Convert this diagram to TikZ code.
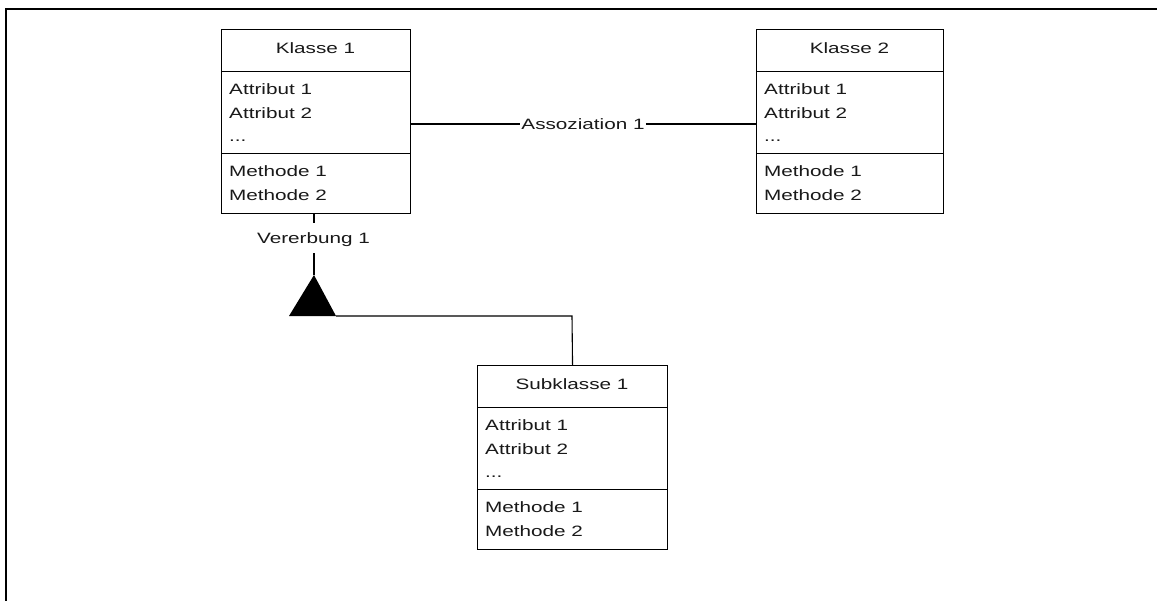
\documentclass[tikz,border=0pt]{standalone}
\usepackage{fontspec}
\newfontfamily\diagfont{Liberation Sans}[FakeStretch=1.38]
\usetikzlibrary{calc}
\tikzset{
  comp/.style={draw=black, line width=1.1pt, fill=white, inner sep=0pt, rectangle},
  txt/.style={inner sep=0pt, font=\diagfont\fontsize{15}{18}\selectfont, text=black!90},
  lbl/.style={inner xsep=1pt, inner ysep=0pt, font=\diagfont\fontsize{15}{18}\selectfont, text=black!90, fill=white},
  conn/.style={draw=black, line width=1.1pt},
  frame/.style={draw=black, line width=2.2pt},
}
\newcommand\umlclass[5]{%
  \node[comp, minimum width=#4pt, minimum height=42pt, anchor=north west] (#1h) at (#2,#3) {};
  \node[comp, minimum width=#4pt, minimum height=82pt, anchor=north west] (#1a) at (#2,#3+42) {};
  \node[comp, minimum width=#4pt, minimum height=60pt, anchor=north west] (#1m) at (#2,#3+124) {};
  \node[txt, anchor=base] (#1t) at (#2+#4/2,#3+24.5) {#5};
  \node[txt, anchor=base west] (#1a1) at (#2+8,#3+65.5) {Attribut 1};
  \node[txt, anchor=base west] (#1a2) at (#2+8,#3+89) {Attribut 2};
  \node[txt, anchor=base west] (#1a3) at (#2+8,#3+112.5) {...};
  \node[txt, anchor=base west] (#1m1) at (#2+8,#3+147.5) {Methode 1};
  \node[txt, anchor=base west] (#1m2) at (#2+8,#3+171) {Methode 2};
}
\begin{document}
\begin{tikzpicture}[x=1pt,y=-1pt]
\useasboundingbox (0,0) rectangle (1157,600);
\fill[white] (0,0) rectangle (1157,600);
% frame
\draw[frame] (6.3,601) -- (6.3,9) -- (1158,9);
% classes
\umlclass{ka}{221}{29}{189}{Klasse 1}
\umlclass{kb}{756}{29}{187}{Klasse 2}
\umlclass{ks}{477}{365}{190}{Subklasse 1}
% association
\node[lbl] (assoc) at (583,124) {Assoziation 1};
\draw[conn] (kaa.east |- assoc.west) -- (assoc.west);
\draw[conn] (assoc.east) -- (kba.west |- assoc.east);
% inheritance
\node[txt] (vlab) at (313.5,240) {Vererbung 1};
\coordinate (v1) at (314,222.7);
\coordinate (v2) at (314,253);
\coordinate (tapex) at (314,275);
\coordinate (tl) at (289,316);
\coordinate (tr) at (336,316);
\coordinate (bend) at (572,316);
\draw[conn] (kam.south -| v1) -- (v1);
\draw[conn] (v2) -- (tapex);
\fill[black] (tapex) -- (tl) -- (tr) -- cycle;
\draw[conn] (tr) -- (bend) -- (ksh.north);
\end{tikzpicture}
\end{document}
